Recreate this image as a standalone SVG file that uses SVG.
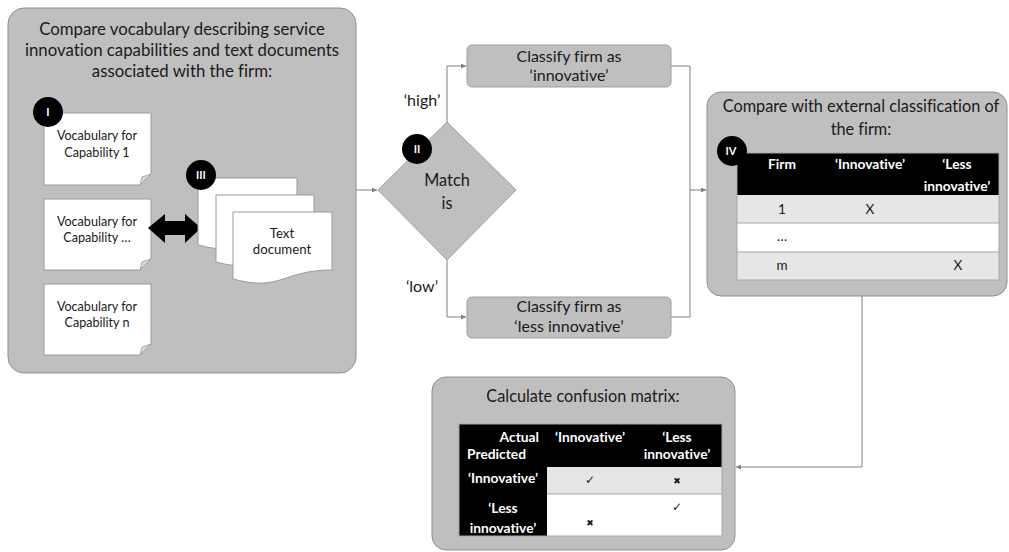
<svg xmlns="http://www.w3.org/2000/svg" width="1009" height="552" viewBox="0 0 1009 552">
<defs>
<style>
text{font-family:Lato,"Open Sans","Liberation Sans",sans-serif;fill:#1a1a1a;text-anchor:middle;font-variant-ligatures:none}
.panel{fill:#bfbfbf;stroke:#8f8f8f;stroke-width:1}
.box{fill:#bfbfbf;stroke:#a0a0a0;stroke-width:1}
.note{fill:#ffffff;stroke:#9a9a9a;stroke-width:1}
.fold{fill:#d9d9d9;stroke:#9a9a9a;stroke-width:0.8}
.page{fill:#ffffff;stroke:#9a9a9a;stroke-width:1}
.badge{fill:#000000}
.bt{fill:#ffffff;font-weight:bold;font-size:11px}
.t16{font-size:16.8px}
.t15{font-size:16.3px}
.t14{font-size:16px}
.t12{font-size:12.6px}
.t13{font-size:13.2px}
.hd{fill:#ffffff;font-weight:bold;font-size:13.8px}
.cell{font-size:13.5px}
.conn{fill:none;stroke:#808080;stroke-width:1}
.rowline{stroke:#a6a6a6;stroke-width:1}
.sym{font-family:"DejaVu Sans",sans-serif}
</style>
<marker id="arr" viewBox="0 0 6 6" refX="6" refY="3" markerWidth="5" markerHeight="5" orient="auto">
<path d="M0,0 L6,3 L0,6 Z" fill="#808080"/>
</marker>
</defs>

<g id="connectors">
<path class="conn" d="M356,190 H377" marker-end="url(#arr)"/>
<path class="conn" d="M447,122 V66 H466" marker-end="url(#arr)"/>
<path class="conn" d="M447,260 V317 H466" marker-end="url(#arr)"/>
<path class="conn" d="M671,66 H690 V317 H671"/>
<path class="conn" d="M690,190 H706" marker-end="url(#arr)"/>
<path class="conn" d="M862,296 V467 H736" marker-end="url(#arr)"/>
</g>

<g id="panel-compare">
<rect class="panel" x="8" y="8" width="348" height="365" rx="16"/>
<text class="t16" x="182" y="35">Compare vocabulary describing service</text>
<text class="t16" x="182" y="56">innovation capabilities and text documents</text>
<text class="t16" x="182" y="77">associated with the firm:</text>
</g>

<g id="note-1">
<path class="note" d="M44,113 H151 V174 L140,185 H44 Z"/>
<path class="fold" d="M151,174 L140,185 L142,177 Z"/>
<text class="t12" x="97" y="140">Vocabulary for</text>
<text class="t12" x="97" y="157">Capability 1</text>
</g>
<g id="badge-I">
<circle class="badge" cx="48" cy="112" r="15"/>
<text class="bt" x="48" y="116">I</text>
</g>

<g id="note-2">
<path class="note" d="M44,199 H151 V259 L140,270 H44 Z"/>
<path class="fold" d="M151,259 L140,270 L142,262 Z"/>
<text class="t12" x="97" y="226">Vocabulary for</text>
<text class="t12" x="97" y="242">Capability …</text>
</g>

<g id="note-3">
<path class="note" d="M44,284 H151 V344 L140,355 H44 Z"/>
<path class="fold" d="M151,344 L140,355 L142,347 Z"/>
<text class="t12" x="97" y="311">Vocabulary for</text>
<text class="t12" x="97" y="327">Capability n</text>
</g>

<g id="double-arrow">
<polygon points="148,228 165,214 165,221 185,221 185,214 201,228 185,243 185,235 165,235 165,243" fill="#000000"/>
</g>

<g id="documents">
<path class="page" d="M198,178 H297 V236 C248,236 248,258 198,245 Z"/>
<path class="page" d="M216,195 H314 V253 C265,253 265,275 216,262 Z"/>
<path class="page" d="M233,212 H332 V270 C282,270 282,292 233,279 Z"/>
<text class="t13" x="282" y="238">Text</text>
<text class="t13" x="282" y="254">document</text>
</g>
<g id="badge-III">
<circle class="badge" cx="201" cy="175" r="15"/>
<text class="bt" x="201" y="179">III</text>
</g>

<g id="decision">
<polygon points="378,190 447,122 516,190 447,260" fill="#bfbfbf" stroke="#a0a0a0" stroke-width="1"/>
<text class="t15" x="447" y="186">Match</text>
<text class="t15" x="447" y="209">is</text>
</g>
<g id="badge-II">
<circle class="badge" cx="417" cy="149" r="15"/>
<text class="bt" x="417" y="153">II</text>
</g>
<g id="label-high"><text class="t14" x="422" y="106">‘high’</text></g>
<g id="label-low"><text class="t14" x="422" y="292">‘low’</text></g>

<g id="classify-innovative">
<rect class="box" x="467" y="45" width="204" height="42" rx="5"/>
<text class="t14" x="569" y="62">Classify firm as</text>
<text class="t14" x="569" y="81">‘innovative’</text>
</g>

<g id="classify-less">
<rect class="box" x="467" y="297" width="204" height="41" rx="5"/>
<text class="t14" x="569" y="312">Classify firm as</text>
<text class="t14" x="569" y="332">‘less innovative’</text>
</g>

<g id="panel-external">
<rect class="panel" x="707" y="92" width="300" height="204" rx="14"/>
<text class="t15" x="861" y="112">Compare with external classification of</text>
<text class="t15" x="861" y="135">the firm:</text>
<rect x="737" y="153" width="262" height="42" fill="#000000"/>
<rect x="737" y="195" width="262" height="28" fill="#e6e6e6"/>
<rect x="737" y="223" width="262" height="29" fill="#ffffff"/>
<rect x="737" y="252" width="262" height="28" fill="#e6e6e6"/>
<line class="rowline" x1="737" y1="223" x2="999" y2="223"/>
<line class="rowline" x1="737" y1="252" x2="999" y2="252"/>
<rect x="737" y="153" width="262" height="127" fill="none" stroke="#a6a6a6" stroke-width="1"/>
<text class="hd" x="782" y="169">Firm</text>
<text class="hd" x="870" y="169">‘Innovative’</text>
<text class="hd" x="957" y="169">‘Less</text>
<text class="hd" x="957" y="191">innovative’</text>
<text class="cell" x="782" y="214">1</text>
<text class="cell" x="870" y="214">X</text>
<text class="cell" x="782" y="241">…</text>
<text class="cell" x="782" y="270">m</text>
<text class="cell" x="958" y="270">X</text>
</g>
<g id="badge-IV">
<circle class="badge" cx="732" cy="151" r="15"/>
<text class="bt" x="731" y="155">IV</text>
</g>

<g id="panel-confusion">
<rect class="panel" x="432" y="377" width="303" height="173" rx="14"/>
<text class="t15" x="583" y="402">Calculate confusion matrix:</text>
<rect x="459" y="424" width="263" height="43" fill="#000000"/>
<rect x="459" y="467" width="88" height="69" fill="#000000"/>
<rect x="547" y="467" width="175" height="27" fill="#e6e6e6"/>
<rect x="547" y="494" width="175" height="42" fill="#ffffff"/>
<line class="rowline" x1="547" y1="494" x2="722" y2="494"/>
<rect x="459" y="424" width="263" height="112" fill="none" stroke="#a6a6a6" stroke-width="1"/>
<text class="hd" x="539" y="442" style="text-anchor:end">Actual</text>
<text class="hd" x="467" y="459" style="text-anchor:start">Predicted</text>
<text class="hd" x="590" y="442">‘Innovative’</text>
<text class="hd" x="677" y="442">‘Less</text>
<text class="hd" x="677" y="459">innovative’</text>
<text class="hd" x="503" y="483">‘Innovative’</text>
<text class="hd" x="503" y="513">‘Less</text>
<text class="hd" x="503" y="533">innovative’</text>
<text class="sym" x="590" y="484" font-size="12">✓</text>
<text class="sym" x="677" y="484" font-size="9">✖</text>
<text class="sym" x="590" y="526" font-size="9">✖</text>
<text class="sym" x="677" y="511" font-size="12">✓</text>
</g>
</svg>
